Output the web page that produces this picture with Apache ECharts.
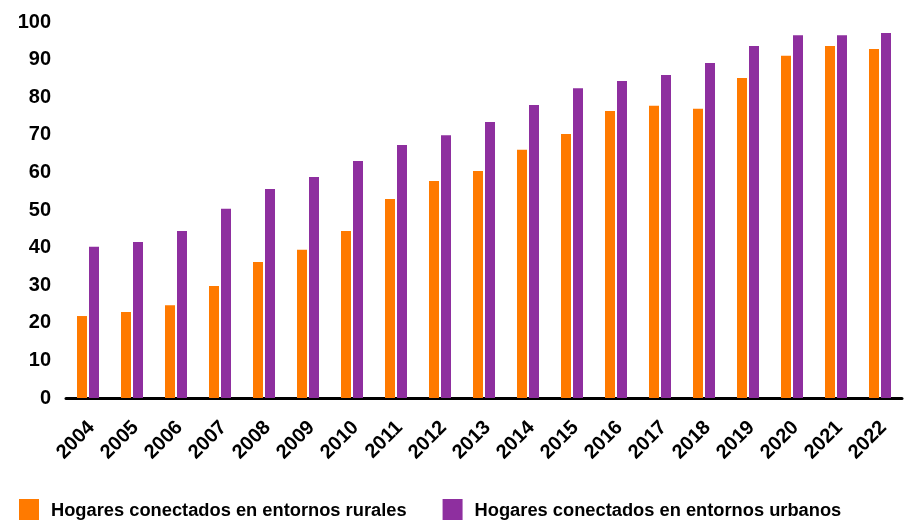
<!DOCTYPE html>
<html>
<head>
<meta charset="utf-8">
<script src="https://cdn.jsdelivr.net/npm/echarts@6/dist/echarts.min.js"></script>
<style>
  html, body { margin: 0; padding: 0; background: #fff; }
  #chart { width: 912px; height: 520px; }
</style>
</head>
<body>
<div id="chart"></div>
<script>
// Años y porcentaje de hogares conectados
const years = ['2004','2005','2006','2007','2008','2009','2010','2011','2012','2013',
               '2014','2015','2016','2017','2018','2019','2020','2021','2022'];
const rurales = [21.8, 22.9, 24.7, 29.8, 36.2, 39.4, 44.4, 52.9, 57.7, 60.4,
                 66.0, 70.2, 76.3, 77.7, 76.9, 85.1, 91.0, 93.6, 92.8];
const urbanos = [40.2, 41.5, 44.4, 50.3, 55.6, 58.8, 63.0, 67.3, 69.9, 73.4,
                 77.9, 82.4, 84.3, 85.9, 89.1, 93.6, 96.5, 96.5, 97.1];
const seriesNames = ['Hogares conectados en entornos rurales', 'Hogares conectados en entornos urbanos'];

const FONT = '"Liberation Sans", Arial, sans-serif';
const chart = echarts.init(document.getElementById('chart'));
chart.setOption({
  animation: false,
  color: ['#ff7a00', '#8e2f9f'],
  grid: { left: 66, right: 10, top: 22, bottom: 122 },
  legend: {
    left: 14, top: 494,
    itemWidth: 20, itemHeight: 24, itemGap: 36,
    icon: 'rect',
    textStyle: { fontFamily: FONT, fontWeight: 'bold', fontSize: 18.3, color: '#000', padding: [4, 0, 0, 7] },
    data: seriesNames
  },
  xAxis: {
    type: 'category',
    data: years,
    axisLine: { lineStyle: { color: '#000', width: 3 } },
    axisTick: { show: false },
    axisLabel: { rotate: 45, margin: 30, padding: [0, -5, 0, 0], fontFamily: FONT, fontWeight: 'bold', fontSize: 20, color: '#000' }
  },
  yAxis: {
    type: 'value',
    min: 0, max: 100, interval: 10,
    axisLine: { show: false },
    axisTick: { show: false },
    splitLine: { show: false },
    axisLabel: { margin: 15, fontFamily: FONT, fontWeight: 'bold', fontSize: 20, color: '#000' }
  },
  series: [
    { name: seriesNames[0], type: 'bar', data: rurales, barWidth: 10, barGap: '20%' },
    { name: seriesNames[1], type: 'bar', data: urbanos, barWidth: 10, barGap: '20%' }
  ]
});
</script>
</body>
</html>
